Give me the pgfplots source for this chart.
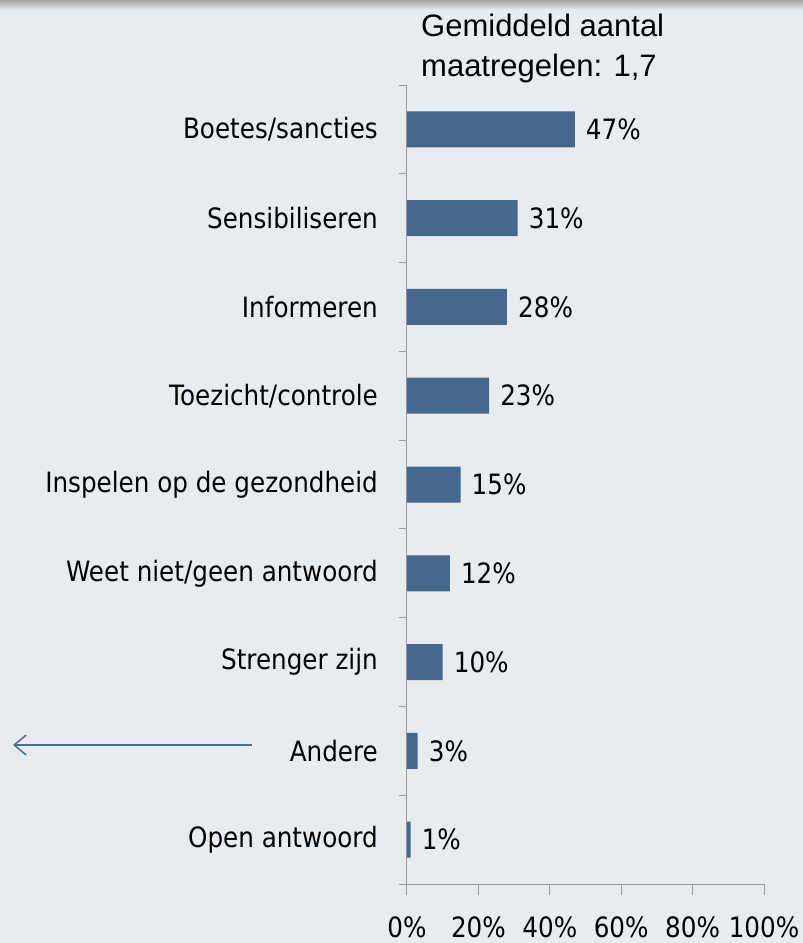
\documentclass[border=0pt]{standalone}
\usepackage{fontspec}
\usepackage{pgfplots}
\pgfplotsset{compat=1.18}
\usetikzlibrary{arrows.meta}
\setmainfont{Liberation Sans}
\newfontfamily\lbl[FakeStretch=0.88]{DejaVu Sans}
\definecolor{bg}{HTML}{E9ECEE}
\definecolor{bar}{HTML}{45688F}
\definecolor{axc}{HTML}{9C9C9C}
\definecolor{arr}{HTML}{4A6E9A}
\begin{document}
\begin{tikzpicture}
\fill[bg] (0,0) rectangle (803pt,-943pt);
\shade[top color=black!35, bottom color=bg] (0,0) rectangle (803pt,-10pt);
\begin{axis}[
  at={(407pt,-884pt)}, anchor=south west,
  scale only axis, width=357pt, height=799pt,
  xmin=0, xmax=100, ymin=-0.5, ymax=8.5,
  xbar, bar width=36pt,
  axis x line=bottom, axis y line=left,
  axis line style={-, axc, line width=1pt},
  xtick={0,20,40,60,80,100},
  xticklabels={0\%,20\%,40\%,60\%,80\%,100\%},
  xtick style={axc, line width=1pt},
  major tick length=11pt, tick align=outside,
  xticklabel style={font=\lbl\fontsize{28}{30}\selectfont, yshift=-22pt, inner sep=0pt},
  ytick={0,...,8},
  yticklabels={Open antwoord,Andere,Strenger zijn,Weet niet/geen antwoord,Inspelen op de gezondheid,Toezicht/controle,Informeren,Sensibiliseren,Boetes/sancties},
  ytick style={draw=none},
  yticklabel style={font=\lbl\fontsize{28}{30}\selectfont, anchor=east, inner sep=0pt, xshift=-18pt},
  extra y ticks={-0.5,0.5,1.5,2.5,3.5,4.5,5.5,6.5,7.5,8.5},
  extra y tick labels={},
  extra y tick style={ytick style={draw=axc, line width=1pt}, major tick length=8pt, tick align=outside},
  nodes near coords={\pgfmathprintnumber[assume math mode=true]{\pgfplotspointmeta}\%},
  nodes near coords style={font=\lbl\fontsize{28}{30}\selectfont, anchor=west, inner sep=0pt, xshift=11pt},
  point meta=x,
  clip=false,
]
\addplot[fill=bar, draw=none] coordinates {
(1,0) (3,1) (10,2) (12,3) (15,4) (23,5) (28,6) (31,7) (47,8)};
\end{axis}
\node[anchor=north west, align=left, font=\fontsize{31}{40}\selectfont, inner sep=0pt] at (421pt,-14pt) {Gemiddeld aantal\\maatregelen: 1,7};
\draw[arr, line width=1.5pt, -{Straight Barb[length=12pt, width=20pt]}] (252pt,-745pt) -- (13pt,-745pt);
\pgfresetboundingbox
\path[use as bounding box] (0,0) rectangle (803pt,-943pt);
\end{tikzpicture}
\end{document}
